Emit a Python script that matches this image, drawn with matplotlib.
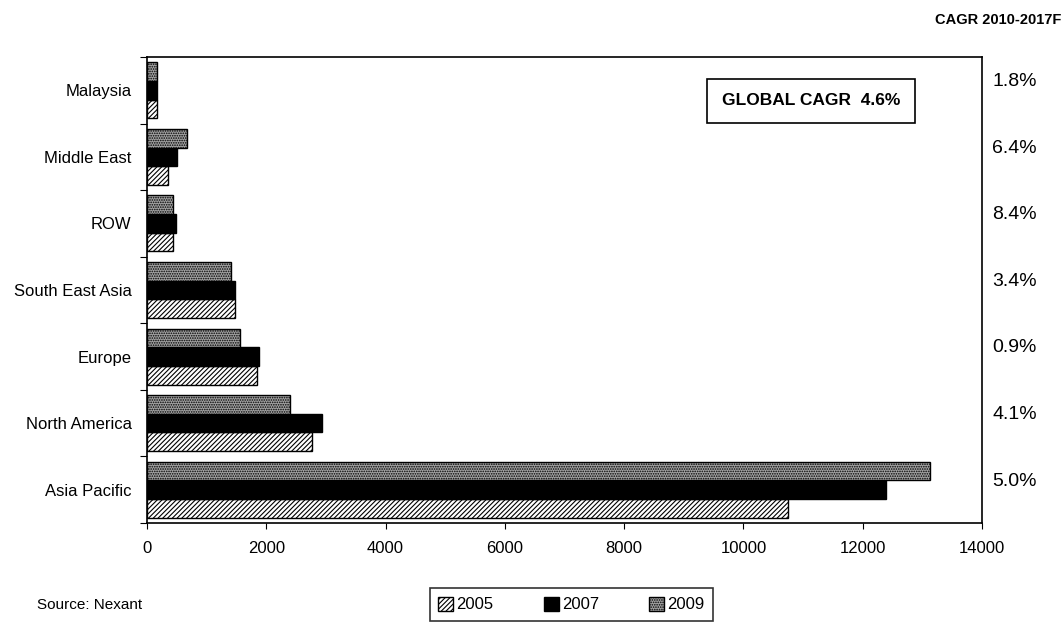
import numpy as np
import matplotlib.pyplot as plt
from matplotlib.patches import Patch

# Data (bottom to top)
regions = ['Asia Pacific', 'North America', 'Europe', 'South East Asia',
           'ROW', 'Middle East', 'Malaysia']
vals_2005 = [10750, 2770, 1840, 1480, 430, 350, 170]
vals_2007 = [12390, 2930, 1875, 1480, 485, 505, 170]
vals_2009 = [13130, 2400, 1560, 1405, 430, 670, 160]
cagr = ['5.0%', '4.1%', '0.9%', '3.4%', '8.4%', '6.4%', '1.8%']
x_ticks = [0, 2000, 4000, 6000, 8000, 10000, 12000, 14000]

plt.rcParams['font.family'] = ['Liberation Sans', 'DejaVu Sans']
plt.rcParams['hatch.linewidth'] = 0.8

GRAY = '#a3a3a3'


def main():
    fig = plt.figure(figsize=(10.63, 6.22), dpi=100)
    ax = fig.add_axes([0.1383, 0.1592, 0.7855, 0.7492])

    y = np.arange(len(regions))
    h = 0.28
    ax.barh(y - h, vals_2005, height=h, color='white', edgecolor='black',
            hatch='///////', linewidth=1, label='2005')
    ax.barh(y, vals_2007, height=h, color='black', edgecolor='black',
            linewidth=1, label='2007')
    ax.barh(y + h, vals_2009, height=h, color=GRAY, edgecolor='black',
            hatch='.......', linewidth=1, label='2009')

    ax.set_xlim(0, 14000)
    ax.set_ylim(-0.5, len(regions) - 0.5)
    ax.set_xticks(x_ticks)
    ax.set_xticklabels([str(t) for t in x_ticks], fontsize=12)
    ax.tick_params(axis='x', length=4, pad=9)

    # boundaries as major ticks, names on minor ticks
    ax.set_yticks(np.arange(-0.5, len(regions), 1.0))
    ax.set_yticklabels([])
    ax.set_yticks(y, minor=True)
    ax.set_yticklabels(regions, minor=True, fontsize=12)
    ax.tick_params(axis='y', which='major', length=5)
    ax.tick_params(axis='y', which='minor', length=0, pad=11)

    for s in ax.spines.values():
        s.set_linewidth(1.2)

    # CAGR column on the right
    for yi, c in zip(y, cagr):
        ax.text(1.012, yi + 0.13, c, transform=ax.get_yaxis_transform(),
                fontsize=14, va='center', ha='left')
    fig.text(0.9985, 0.968, 'CAGR 2010-2017F', fontsize=10.5, fontweight='bold',
             ha='right', va='center')

    ax.text(0.795, 0.906, 'GLOBAL CAGR  4.6%', transform=ax.transAxes,
            fontsize=12.5, fontweight='bold', ha='center', va='center',
            bbox=dict(boxstyle='square,pad=0.85', fc='white', ec='black', lw=1.2))

    fig.text(0.035, 0.028, 'Source: Nexant', fontsize=11, va='center')

    handles = [Patch(fc='white', ec='black', hatch='///////', label='2005'),
               Patch(fc='black', ec='black', label='2007'),
               Patch(fc=GRAY, ec='black', hatch='.......', label='2009')]
    leg = fig.legend(handles=handles, loc='center', ncol=3,
                     bbox_to_anchor=(0.5375, 0.028), fontsize=12,
                     frameon=True, fancybox=False, edgecolor='black',
                     handlelength=0.9, handleheight=0.9, handletextpad=0.2,
                     columnspacing=3.0, borderpad=0.5, borderaxespad=0)
    leg.get_frame().set_linewidth(1.2)

    fig.savefig('out.png', dpi=100)


if __name__ == "__main__":
    main()
